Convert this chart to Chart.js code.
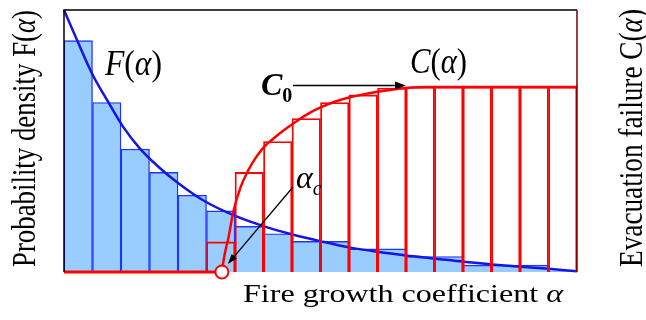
<!DOCTYPE html>
<html>
<head>
<meta charset="utf-8">
<script src="https://cdn.jsdelivr.net/npm/chart.js@4.4.1/dist/chart.umd.min.js"></script>
<style>
  body { margin: 0; background: #fff; }
  canvas { display: block; }
</style>
</head>
<body>
<canvas id="chart" width="646" height="320"></canvas>
<script>
// histogram bins (alpha in bin units)
const binCenters = [0.5, 1.5, 2.5, 3.5, 4.5, 5.5, 6.5, 7.5, 8.5, 9.5, 10.5, 11.5, 12.5, 13.5, 14.5, 15.5, 16.5, 17.5];
const densityBars = [88.3, 64.7, 46.9, 38.0, 29.3, 23.3, 17.4, 14.6, 11.7, 11.7, 8.8, 8.8, 5.9, 5.9, 2.6, 2.6, 2.6, 0.4];
const failureBars = [null, null, null, null, null, 11.5, 38.0, 49.8, 58.6, 64.7, 67.6, 70.2, 70.6, 70.6, 70.6, 70.6, 70.6, 70.6];

// F(alpha) curve
const alphaF = [0, 0.43, 1.01, 1.54, 2.07, 2.65, 3.36, 4.0, 4.94, 6.03, 7.03, 8.02, 9.02, 10.01, 11.01, 12.01, 13.03, 14.02, 15.02, 16.02, 17.01, 18];
const densityF = [100, 89.2, 75.2, 65.1, 55.5, 47.3, 39.7, 34.0, 27.0, 21.3, 17.4, 14.3, 11.7, 9.4, 7.7, 6.3, 5.1, 3.9, 2.9, 2.0, 1.2, 0.3];

// C(alpha) curve
const critAlpha = 5.54;
const plateauC = 70.6;
const alphaC = [5.54, 5.6, 5.68, 5.76, 5.94, 6.2, 6.45, 6.7, 7.0, 7.3, 7.7, 8.02, 8.5, 9.0, 9.5, 10.0, 10.5, 11.0, 11.5, 12.0, 12.7, 18];
const failureC = [0, 4.5, 9, 12.5, 23, 32.5, 38.5, 43.2, 47.5, 50.5, 54, 56.5, 60, 62.8, 65, 66.6, 67.8, 68.8, 69.6, 70.2, 70.6, 70.6];

const BLUE = '#1414e6';
const RED = '#ff0000';

const pts = (xs, ys) => xs.map((x, i) => ({ x: x, y: ys[i] }));

function drawLabel(ctx, parts, x, y, opt) {
    opt = opt || {};
    ctx.save();
    ctx.translate(x, y);
    if (opt.rot) ctx.rotate(opt.rot);
    let w = 0;
    parts.forEach(p => { ctx.font = p[1]; w += ctx.measureText(p[0]).width; });
    ctx.scale(opt.len ? opt.len / w : 1, opt.thick || 1);
    ctx.fillStyle = '#000';
    ctx.textBaseline = 'alphabetic';
    ctx.textAlign = 'left';
    let cx = 0;
    parts.forEach(p => {
        ctx.font = p[1];
        ctx.fillText(p[0], cx, p[2] || 0);
        cx += ctx.measureText(p[0]).width;
    });
    ctx.restore();
}

function arrow(ctx, x1, y1, x2, y2, width, head, half) {
    const a = Math.atan2(y2 - y1, x2 - x1);
    ctx.save();
    ctx.strokeStyle = '#000';
    ctx.fillStyle = '#000';
    ctx.lineWidth = width;
    ctx.beginPath();
    ctx.moveTo(x1, y1);
    ctx.lineTo(x2 - head * 0.8 * Math.cos(a), y2 - head * 0.8 * Math.sin(a));
    ctx.stroke();
    ctx.translate(x2, y2);
    ctx.rotate(a);
    ctx.beginPath();
    ctx.moveTo(0, 0);
    ctx.lineTo(-head, -half);
    ctx.lineTo(-head, half);
    ctx.closePath();
    ctx.fill();
    ctx.restore();
}

const decorations = {
    id: 'decorations',
    afterDatasetsDraw(chart) {
        const ctx = chart.ctx;
        const a = chart.chartArea;
        ctx.save();
        ctx.lineWidth = 1.5;
        ctx.strokeStyle = '#000';
        ctx.beginPath();
        ctx.moveTo(a.left, a.bottom);
        ctx.lineTo(a.left, a.top);
        ctx.lineTo(a.right, a.top);
        ctx.stroke();
        ctx.strokeStyle = '#700000';
        ctx.beginPath();
        ctx.moveTo(a.right, a.top);
        ctx.lineTo(a.right, a.bottom);
        ctx.stroke();
        ctx.restore();
    },
    afterDraw(chart) {
        const ctx = chart.ctx;
        const xs = chart.scales.x, ys = chart.scales.y;
        const serif = '"Liberation Serif", "DejaVu Serif", serif';

        // axis titles
        drawLabel(ctx, [
            ['Fire growth coefficient ', '25px ' + serif],
            ['\u03b1', 'italic 25px ' + serif]
        ], 243, 302, { len: 320 });
        drawLabel(ctx, [
            ['Probability density F(', '26px ' + serif],
            ['\u03b1', 'italic 26px ' + serif],
            [')', '26px ' + serif]
        ], 35, 267, { rot: -Math.PI / 2, len: 257, thick: 1.3 });
        drawLabel(ctx, [
            ['Evacuation failure C(', '26px ' + serif],
            ['\u03b1', 'italic 26px ' + serif],
            [')', '26px ' + serif]
        ], 642, 267, { rot: -Math.PI / 2, len: 258, thick: 1.3 });

        // curve labels
        drawLabel(ctx, [
            ['F', 'italic 36px ' + serif],
            ['(', '36px ' + serif],
            ['\u03b1', 'italic 36px ' + serif],
            [')', '36px ' + serif]
        ], 105, 75, { len: 57 });
        drawLabel(ctx, [
            ['C', 'italic 36px ' + serif],
            ['(', '36px ' + serif],
            ['\u03b1', 'italic 36px ' + serif],
            [')', '36px ' + serif]
        ], 410, 73, { len: 57 });
        drawLabel(ctx, [
            ['C', 'italic 600 32px ' + serif],
            ['0', '600 20px ' + serif, 7]
        ], 261, 95);
        drawLabel(ctx, [
            ['\u03b1', 'italic 32px ' + serif],
            ['c', 'italic 20px ' + serif, 7]
        ], 296, 188);

        // C0 arrow to the plateau
        const yPlat = ys.getPixelForValue(plateauC) - 1.5;
        arrow(ctx, 293, yPlat, xs.getPixelForValue(12.0), yPlat, 1.6, 11, 4);
        // alpha_c arrow to the critical point
        arrow(ctx, 293, 187, xs.getPixelForValue(critAlpha) + 6, ys.getPixelForValue(0) - 8, 1.3, 10, 3.5);
    }
};

new Chart(document.getElementById('chart'), {
    data: {
        datasets: [
            {
                type: 'bar',
                data: pts(binCenters, densityBars),
                backgroundColor: '#99ccff',
                borderColor: '#1f35ff',
                borderWidth: 1.4,
                barPercentage: 1,
                categoryPercentage: 1,
                grouped: false,
                order: 6
            },
            {
                type: 'line',
                data: pts(alphaF, densityF),
                borderColor: BLUE,
                borderWidth: 2.5,
                pointRadius: 0,
                cubicInterpolationMode: 'monotone',
                clip: false,
                order: 5
            },
            {
                type: 'bar',
                data: pts(binCenters, failureBars),
                backgroundColor: 'rgba(0,0,0,0)',
                borderColor: RED,
                borderWidth: 1.2,
                barPercentage: 1,
                categoryPercentage: 1,
                grouped: false,
                order: 4
            },
            {
                type: 'line',
                data: pts(alphaC, failureC),
                borderColor: RED,
                borderWidth: 2.5,
                pointRadius: 0,
                cubicInterpolationMode: 'monotone',
                clip: false,
                order: 3
            },
            {
                type: 'line',
                data: [{ x: 0, y: 0 }, { x: critAlpha, y: 0 }],
                borderColor: RED,
                borderWidth: 3,
                pointRadius: 0,
                clip: false,
                order: 2
            },
            {
                type: 'line',
                data: [{ x: critAlpha, y: 0 }],
                showLine: false,
                pointRadius: 6.5,
                pointBackgroundColor: '#fff',
                pointBorderColor: RED,
                pointBorderWidth: 2,
                clip: false,
                order: 1
            }
        ]
    },
    options: {
        responsive: false,
        animation: false,
        layout: { padding: { left: 64, right: 69, top: 10, bottom: 48 } },
        plugins: { legend: { display: false }, tooltip: { enabled: false } },
        scales: {
            x: { type: 'linear', min: 0, max: 18, offset: false, display: false, ticks: { stepSize: 1 } },
            y: { type: 'linear', min: 0, max: 100, display: false }
        }
    },
    plugins: [decorations]
});
</script>
</body>
</html>
